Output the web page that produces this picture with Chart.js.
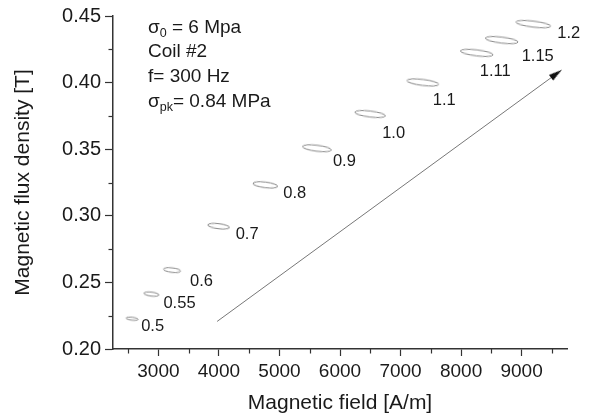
<!DOCTYPE html>
<html>
<head>
<meta charset="utf-8">
<script src="https://cdn.jsdelivr.net/npm/chart.js@4"></script>
<style>
  html, body { margin: 0; padding: 0; background: #fff; }
  #wrap { width: 592px; height: 418px; }
</style>
</head>
<body>
<div id="wrap"><canvas id="chart"></canvas></div>
<script>
// minor loops: peak stress label, centre (H, B) and loop span
const loopLabels = ['0.5', '0.55', '0.6', '0.7', '0.8', '0.9', '1.0', '1.1', '1.11', '1.15', '1.2'];
const loopH = [2566, 2885, 3226, 3995, 4766, 5619, 6498, 7368, 8259, 8671, 9193];
const loopB = [0.2227, 0.2412, 0.2592, 0.2922, 0.3232, 0.3507, 0.3764, 0.4001, 0.4223, 0.4319, 0.4439];
const loopDH = [200, 250, 285, 360, 410, 480, 510, 530, 545, 545, 580];
const loopDB = [0.0022, 0.003, 0.0034, 0.0038, 0.0042, 0.0045, 0.0045, 0.0045, 0.0045, 0.0045, 0.0045];

// arrow
const arrowH = [3970, 9660];
const arrowB = [0.2207, 0.4094];

// ticks
const xTicks = [3000, 4000, 5000, 6000, 7000, 8000, 9000];
const xMinor = [2500, 3500, 4500, 5500, 6500, 7500, 8500, 9500];
const yTicks = [0.20, 0.25, 0.30, 0.35, 0.40, 0.45];
const yMinor = [0.225, 0.275, 0.325, 0.375, 0.425];

// annotation text (parts, sub = subscript)
const notes = [
  [{ t: 'σ' }, { t: '0', sub: true }, { t: ' = 6 Mpa' }],
  [{ t: 'Coil #2' }],
  [{ t: 'f= 300 Hz' }],
  [{ t: 'σ' }, { t: 'pk', sub: true }, { t: '= 0.84 MPa' }]
];

// label placement (px from loop centre: left edge, baseline)
const labelOffsets = [[9, 12], [12, 14], [18, 16], [17, 13], [18, 13], [16, 18], [12, 24], [10, 23], [3, 23], [20, 21], [24, 14]];

const FONT = "'Liberation Sans', Arial, sans-serif";
const AXIS = '#333';

function loopStyle(ctx) {
  const i = ctx.dataIndex;
  const sx = ctx.chart.scales.x, sy = ctx.chart.scales.y;
  if (!sx || !sy) return 'circle';
  const w = Math.abs(sx.getPixelForValue(loopH[i] + loopDH[i] / 2) - sx.getPixelForValue(loopH[i] - loopDH[i] / 2));
  const h = Math.abs(sy.getPixelForValue(loopB[i] + loopDB[i] / 2) - sy.getPixelForValue(loopB[i] - loopDB[i] / 2));
  if (!isFinite(w) || !isFinite(h) || w < 1) return 'circle';
  const c = document.createElement('canvas');
  c.width = Math.ceil(w + 4);
  c.height = Math.ceil(h + 4);
  const g = c.getContext('2d');
  g.strokeStyle = '#8a8a8a';
  g.lineWidth = 1;
  g.beginPath();
  g.ellipse(c.width / 2, c.height / 2, w / 2, h / 2, 0, 0, Math.PI * 2);
  g.stroke();
  return c;
}

function arrowHead() {
  const L = 13, W = 7;
  const c = document.createElement('canvas');
  c.width = L * 2;
  c.height = W;
  const g = c.getContext('2d');
  g.fillStyle = '#111';
  g.beginPath();
  g.moveTo(L, W / 2);
  g.lineTo(0, 0);
  g.lineTo(0, W);
  g.closePath();
  g.fill();
  return c;
}

function arrowAngle(ctx) {
  const sx = ctx.chart.scales.x, sy = ctx.chart.scales.y;
  if (!sx || !sy) return 0;
  const dx = sx.getPixelForValue(arrowH[1]) - sx.getPixelForValue(arrowH[0]);
  const dy = sy.getPixelForValue(arrowB[1]) - sy.getPixelForValue(arrowB[0]);
  return Math.atan2(dy, dx) * 180 / Math.PI;
}

const extras = {
  id: 'extras',
  afterDraw(chart) {
    const { ctx, scales: { x, y } } = chart;
    ctx.save();
    // minor ticks
    ctx.strokeStyle = AXIS;
    ctx.lineWidth = 1.2;
    const yb = y.getPixelForValue(y.min);
    const xl = x.getPixelForValue(x.min);
    xMinor.forEach(v => {
      const px = Math.round(x.getPixelForValue(v)) + 0.5;
      ctx.beginPath(); ctx.moveTo(px, yb); ctx.lineTo(px, yb + 4.5); ctx.stroke();
    });
    yMinor.forEach(v => {
      const py = Math.round(y.getPixelForValue(v)) + 0.5;
      ctx.beginPath(); ctx.moveTo(xl, py); ctx.lineTo(xl - 4.5, py); ctx.stroke();
    });

    // loop labels
    ctx.fillStyle = '#1a1a1a';
    ctx.font = '16.5px ' + FONT;
    ctx.textBaseline = 'alphabetic';
    ctx.textAlign = 'left';
    chart.getDatasetMeta(0).data.forEach((pt, i) => {
      ctx.fillText(loopLabels[i], pt.x + labelOffsets[i][0], pt.y + labelOffsets[i][1]);
    });

    // annotation block
    const left = 148;
    const base = [32.5, 57, 81.5, 106.5];
    notes.forEach((parts, r) => {
      let cx = left;
      parts.forEach(p => {
        ctx.font = (p.sub ? '12.5px ' : '19px ') + FONT;
        ctx.fillText(p.t, cx, base[r] + (p.sub ? 4 : 0));
        cx += ctx.measureText(p.t).width;
      });
    });
    ctx.restore();
  }
};

new Chart(document.getElementById('chart'), {
  type: 'scatter',
  data: {
    datasets: [
      {
        data: loopH.map((h, i) => ({ x: h, y: loopB[i] })),
        pointStyle: loopStyle,
        pointRadius: 3,
        rotation: 7,
        showLine: false
      },
      {
        data: arrowH.map((h, i) => ({ x: h, y: arrowB[i] })),
        showLine: true,
        borderColor: '#777',
        borderWidth: 1,
        pointRadius: [0, 3],
        pointStyle: arrowHead(),
        rotation: arrowAngle
      }
    ]
  },
  options: {
    responsive: true,
    maintainAspectRatio: false,
    animation: false,
    events: [],
    layout: { padding: { top: 16, right: 25, left: 0, bottom: 0 } },
    plugins: { legend: { display: false }, tooltip: { enabled: false } },
    scales: {
      x: {
        type: 'linear',
        min: 2250,
        max: 9750,
        afterBuildTicks: s => { s.ticks = xTicks.map(v => ({ value: v })); },
        afterFit: s => { s.height = 69; },
        ticks: { callback: v => String(v), color: '#1a1a1a', font: { family: FONT, size: 19 }, padding: 4, maxRotation: 0 },
        grid: { drawOnChartArea: false, drawTicks: true, tickLength: 7, tickColor: AXIS, tickWidth: 1.2 },
        border: { color: AXIS, width: 1.5 },
        title: { display: true, text: 'Magnetic field [A/m]', color: '#1a1a1a', font: { family: FONT, size: 21 }, padding: { top: 0, bottom: 2 } }
      },
      y: {
        type: 'linear',
        min: 0.2,
        max: 0.45,
        afterBuildTicks: s => { s.ticks = yTicks.map(v => ({ value: v })); },
        afterFit: s => { s.width = 113; },
        ticks: { callback: v => v.toFixed(2), color: '#1a1a1a', font: { family: FONT, size: 20 }, padding: 4 },
        grid: { drawOnChartArea: false, drawTicks: true, tickLength: 8, tickColor: AXIS, tickWidth: 1.2 },
        border: { color: AXIS, width: 1.5 },
        title: { display: true, text: 'Magnetic flux density [T]', color: '#1a1a1a', font: { family: FONT, size: 21 }, padding: { top: 11, bottom: 0 } }
      }
    }
  },
  plugins: [extras]
});
</script>
</body>
</html>
